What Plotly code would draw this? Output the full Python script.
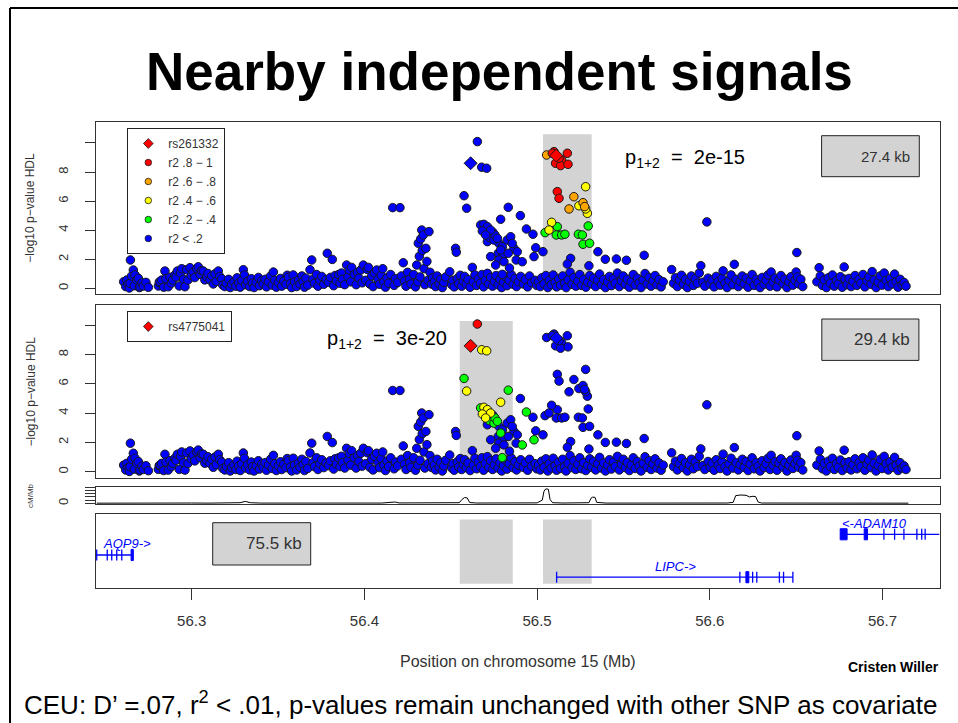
import plotly.graph_objects as go

# ------------------------------------------------------------------ data
# (position Mb, -log10 p) for SNPs that are r2 < .2 with both index SNPs
band_a = [(56.2606,0.45),(56.2618,0.12),(56.2624,0.57),(56.2631,0.28),(56.2639,0.02),(56.2643,0.34),(56.2645,1.95),(56.2652,0.85),(56.2662,1.26),(56.2668,0.18),(56.2672,0.92),(56.2682,0.57),(56.2691,0.69),(56.2697,0.05),(56.2701,0.11),(56.2712,0.38),(56.2720,0.16),(56.2735,0.41),(56.2749,0.07)]
band_b = [(56.2807,0.16),(56.2812,0.42),(56.2816,0.46),(56.2826,0.57),(56.2838,0.08),(56.2845,1.19),(56.2851,0.66),(56.2864,0.11),(56.2874,0.76),(56.2882,0.35),(56.2890,0.57),(56.2903,0.92),(56.2909,0.78),(56.2917,1.19),(56.2928,0.16),(56.2935,1.05),(56.2942,1.35),(56.2953,0.62),(56.2961,0.11),(56.2971,1.28),(56.2978,0.57),(56.2990,1.42),(56.2997,0.88),(56.3009,1.12),(56.3018,0.74),(56.3029,1.35),(56.3038,1.48),(56.3048,0.96),(56.3057,1.22),(56.3067,1.19),(56.3076,0.58),(56.3087,0.78),(56.3094,1.02),(56.3106,0.57),(56.3116,0.85),(56.3125,0.30),(56.3135,1.00),(56.3142,0.48),(56.3154,1.19),(56.3162,0.82),(56.3174,0.66),(56.3180,0.22)]
band_c = [(56.3192,0.12),(56.3201,0.35),(56.3214,0.62),(56.3223,0.05),(56.3231,0.28),(56.3245,0.45),(56.3256,0.15),(56.3263,0.72),(56.3272,0.38),(56.3281,0.08),(56.3290,0.55),(56.3299,1.28),(56.3305,0.92),(56.3312,0.25),(56.3324,0.48),(56.3336,0.12),(56.3345,0.66),(56.3352,0.35),(56.3361,0.05),(56.3374,0.42),(56.3386,0.75),(56.3392,0.18),(56.3405,0.52),(56.3414,0.30),(56.3426,0.62),(56.3433,0.10),(56.3445,0.45),(56.3457,0.85),(56.3466,0.22),(56.3473,1.12),(56.3481,0.55),(56.3490,0.08),(56.3502,0.40),(56.3514,0.68),(56.3521,0.15),(56.3533,0.50),(56.3546,0.28),(56.3553,0.90),(56.3560,0.76),(56.3572,0.32),(56.3579,0.05),(56.3588,0.92),(56.3596,0.45)]
band_d = [(56.3608,0.12),(56.3619,0.58),(56.3627,0.30),(56.3638,0.85),(56.3645,0.48),(56.3653,0.08),(56.3661,0.70),(56.3672,0.22),(56.3685,1.28),(56.3695,1.95),(56.3702,0.62),(56.3711,0.35),(56.3723,0.95),(56.3731,0.15),(56.3742,0.55),(56.3753,0.82),(56.3765,0.28),(56.3778,0.60),(56.3785,2.41),(56.3792,0.42),(56.3803,0.75),(56.3814,1.99),(56.3822,0.18),(56.3830,0.88),(56.3838,0.52),(56.3851,0.95),(56.3859,0.35),(56.3867,1.05),(56.3874,0.62),(56.3886,0.25),(56.3897,1.60),(56.3905,0.80),(56.3912,1.26),(56.3921,0.45),(56.3926,1.44),(56.3941,0.95),(56.3952,0.25),(56.3960,1.10),(56.3968,0.70),(56.3979,1.26),(56.3987,0.38),(56.3994,1.60)]
band_e = [(56.4008,0.55),(56.4016,1.30),(56.4023,1.44),(56.4031,0.30),(56.4042,0.85),(56.4050,0.12),(56.4058,1.05),(56.4071,1.26),(56.4079,0.62),(56.4088,0.28),(56.4097,0.90),(56.4106,1.35),(56.4113,0.45),(56.4122,0.08),(56.4131,0.72),(56.4140,0.35),(56.4152,0.95),(56.4164,5.55),(56.4172,0.20),(56.4180,0.66),(56.4193,0.40),(56.4206,5.55),(56.4214,0.85),(56.4225,1.76),(56.4232,0.50),(56.4241,0.15),(56.4250,1.10),(56.4262,0.62),(56.4270,0.30),(56.4285,0.95),(56.4296,0.10),(56.4303,1.60),(56.4310,0.45),(56.4312,3.10),(56.4318,2.20),(56.4322,0.78),(56.4326,3.40),(56.4332,4.01),(56.4335,2.60),(56.4341,3.67),(56.4345,1.35),(56.4350,0.25),(56.4356,2.75),(56.4362,1.85),(56.4368,0.55),(56.4374,3.90),(56.4380,1.10),(56.4388,0.30),(56.4395,0.72)]
band_f = [(56.4405,0.45),(56.4412,0.12),(56.4421,0.85),(56.4433,0.30),(56.4442,0.62),(56.4451,0.05),(56.4460,0.40),(56.4470,0.78),(56.4494,1.14),(56.4505,0.25),(56.4512,0.55),(56.4520,0.10),(56.4528,2.75),(56.4532,2.48),(56.4538,0.68),(56.4546,0.32),(56.4555,0.90),(56.4563,0.15),(56.4572,0.50),(56.4580,0.82),(56.4590,0.28),(56.4600,0.60),(56.4612,0.08),(56.4625,1.44),(56.4631,0.45),(56.4640,0.92),(56.4650,0.20),(56.4660,0.65),(56.4672,0.35),(56.4681,0.95),(56.4690,0.10),(56.4700,0.55),(56.4712,1.03),(56.4720,0.30),(56.4731,0.75),(56.4742,0.15),(56.4753,0.48),(56.4762,0.88),(56.4774,0.25),(56.4785,0.62),(56.4795,0.05),(56.4806,0.42),(56.4815,0.80),(56.4826,0.18),(56.4838,0.55),(56.4850,0.95),(56.4861,0.28),(56.4872,0.68),(56.4881,0.12),(56.4892,0.45),(56.4905,0.82),(56.4920,0.30),(56.4932,0.60),(56.4945,0.10),(56.4956,0.85),(56.4968,0.38),(56.4988,0.55),(56.4998,0.20)]
peak_blue = [(56.4903,5.00),(56.4976,3.72),(56.4744,3.85),(56.4712,3.21),(56.4779,3.09),(56.4799,2.86),(56.4775,2.41),(56.4799,2.18),(56.4779,1.95),(56.4808,1.83),(56.4760,1.60),(56.4731,2.18),(56.4827,3.32),(56.4847,3.55),(56.4866,2.75),(56.4885,2.52),(56.4833,2.41),(56.4856,3.09),(56.4992,2.79),(56.5034,2.52),(56.5194,2.06),(56.5175,1.67),(56.5300,1.55),(56.5352,2.52),(56.5395,2.00),(56.5459,2.02),(56.5517,1.93),(56.5620,2.27),(56.4879,1.95),(56.4840,1.40)]
band_g = [(56.5008,0.45),(56.5018,0.12),(56.5027,0.72),(56.5040,0.30),(56.5051,0.88),(56.5062,0.05),(56.5070,0.55),(56.5082,0.25),(56.5093,0.92),(56.5104,0.40),(56.5113,0.10),(56.5125,0.65),(56.5136,0.22),(56.5148,0.85),(56.5159,0.35),(56.5168,0.05),(56.5180,0.58),(56.5191,1.10),(56.5202,0.28),(56.5213,0.75),(56.5224,0.15),(56.5236,0.50),(56.5247,0.95),(56.5258,0.20),(56.5270,0.62),(56.5282,0.08),(56.5293,0.42),(56.5305,0.88),(56.5316,0.30),(56.5328,0.70),(56.5339,0.12),(56.5351,0.55),(56.5362,0.98),(56.5373,0.25),(56.5385,0.60),(56.5396,0.05),(56.5408,0.45),(56.5419,0.82),(56.5430,0.18),(56.5442,0.66),(56.5453,0.35),(56.5465,1.05),(56.5476,0.12),(56.5488,0.52),(56.5499,0.85)]
band_h = [(56.5511,0.28),(56.5522,0.62),(56.5534,0.08),(56.5545,0.45),(56.5557,0.95),(56.5568,0.22),(56.5580,0.70),(56.5591,0.38),(56.5602,0.05),(56.5614,0.58),(56.5625,1.02),(56.5637,0.30),(56.5648,0.75),(56.5660,0.15),(56.5671,0.52),(56.5683,0.88),(56.5694,0.25),(56.5706,0.60),(56.5718,0.10),(56.5730,0.45),(56.5779,1.29),(56.5790,0.35),(56.5801,0.72),(56.5812,0.12),(56.5824,0.55),(56.5836,0.90),(56.5847,0.28),(56.5859,0.62),(56.5870,0.05),(56.5882,0.48),(56.5893,0.85),(56.5905,0.20),(56.5916,0.66),(56.5928,0.35),(56.5939,1.05),(56.5948,1.56),(56.5960,0.42),(56.5971,0.15),(56.5983,4.57),(56.5990,0.70)]
band_i = [(56.6002,0.30),(56.6014,0.58),(56.6025,0.10),(56.6037,0.82),(56.6048,0.45),(56.6060,0.22),(56.6071,0.68),(56.6077,1.20),(56.6088,0.35),(56.6100,0.05),(56.6111,0.55),(56.6123,0.92),(56.6134,0.25),(56.6142,1.65),(56.6153,0.62),(56.6165,0.12),(56.6176,0.48),(56.6188,0.85),(56.6199,0.30),(56.6211,0.70),(56.6222,0.08),(56.6234,0.52),(56.6245,0.95),(56.6257,0.20),(56.6268,0.62),(56.6280,0.38),(56.6291,0.05),(56.6303,0.75),(56.6314,0.28),(56.6326,0.55),(56.6337,0.92),(56.6349,0.15),(56.6355,1.12),(56.6366,0.45),(56.6378,0.70),(56.6389,0.10),(56.6401,0.58),(56.6412,0.88),(56.6424,0.32),(56.6435,0.62),(56.6447,0.05),(56.6458,0.45),(56.6470,0.80),(56.6481,0.22),(56.6493,0.55),(56.6504,2.46),(56.6500,1.12),(56.6508,0.78),(56.6515,0.30),(56.6527,0.62),(56.6538,0.12)]
band_j = [(56.6620,0.45),(56.6633,1.42),(56.6640,0.85),(56.6652,0.20),(56.6663,0.58),(56.6675,0.05),(56.6686,0.72),(56.6698,0.35),(56.6710,0.92),(56.6721,0.15),(56.6733,0.55),(56.6744,0.30),(56.6756,0.80),(56.6767,0.08),(56.6778,1.47),(56.6783,0.62),(56.6795,0.25),(56.6806,0.68),(56.6818,0.12),(56.6829,0.48),(56.6841,0.88),(56.6852,0.20),(56.6864,0.62),(56.6875,0.35),(56.6887,0.95),(56.6898,0.10),(56.6910,0.52),(56.6921,0.78),(56.6933,0.28),(56.6940,1.15),(56.6952,0.58),(56.6963,0.05),(56.6975,0.42),(56.6986,0.85),(56.6998,0.22),(56.7010,1.05),(56.7021,0.55),(56.7033,0.12),(56.7044,0.68),(56.7056,0.30),(56.7070,0.98),(56.7079,0.45),(56.7090,0.08),(56.7102,0.62),(56.7113,0.25),(56.7125,0.40),(56.7136,0.15)]

# SNPs in LD with rs261332 (coloured in the top panel, blue below)
top_red = [(56.5098,9.40),(56.5088,9.29),(56.5175,9.29),(56.5142,8.83),(56.5107,8.60),(56.5136,8.44),(56.5179,8.53),(56.5127,8.95),(56.5117,6.65),(56.5127,6.19)]
top_orange = [(56.5055,9.17),(56.5213,6.30),(56.5185,5.46),(56.5266,5.89),(56.5275,5.62)]
top_yellow = [(56.5281,6.99),(56.5242,5.68),(56.5291,5.16),(56.5281,5.46),(56.5084,4.54),(56.5069,4.01)]
top_green = [(56.5046,3.83),(56.5117,4.24),(56.5111,3.67),(56.5142,3.67),(56.5161,3.72),(56.5239,3.72),(56.5262,3.67),(56.5296,4.29),(56.5266,3.03),(56.5304,3.10)]

# SNPs in LD with rs4775041 (coloured in the bottom panel, blue above)
bot_red = [(56.4654,10.09)]
bot_yellow = [(56.4679,8.33),(56.4708,8.26),(56.4592,5.51),(56.4789,4.75),(56.4692,4.40),(56.4712,4.24),(56.4731,4.01),(56.4683,3.94),(56.4702,3.67)]
bot_green = [(56.4577,6.37),(56.4833,5.57),(56.4938,4.08),(56.4673,4.36),(56.4725,3.49),(56.4750,3.32),(56.4756,3.67),(56.4770,3.44),(56.4789,2.64),(56.4914,1.83),(56.4982,2.18),(56.4798,0.96)]

rs261332 = (56.5111, 9.13)
rs4775041 = (56.4615, 8.60)

top_window = (56.5034, 56.5316)
bot_window = (56.4552, 56.4859)

recomb_pos = [56.2450,56.2550,56.2620,56.2700,56.2800,56.2900,56.3000,56.3100,56.3200,56.3280,56.3310,56.3340,56.3400,56.3500,56.3600,56.3700,56.3800,56.3900,56.4000,56.4100,56.4160,56.4180,56.4200,56.4300,56.4400,56.4500,56.4550,56.4565,56.4580,56.4595,56.4610,56.4650,56.4700,56.4800,56.4900,56.5000,56.5030,56.5040,56.5050,56.5065,56.5075,56.5090,56.5150,56.5200,56.5250,56.5300,56.5312,56.5320,56.5335,56.5345,56.5400,56.5500,56.5600,56.5700,56.5800,56.5900,56.6000,56.6100,56.6135,56.6150,56.6180,56.6210,56.6230,56.6250,56.6265,56.6280,56.6300,56.6400,56.6500,56.6600,56.6700,56.6800,56.6900,56.7000,56.7100,56.7150]
recomb_rate = [0.5,1.0,0.8,1.2,0.6,1.5,1.0,0.7,1.2,2.0,6.0,2.0,0.8,1.0,0.6,1.4,0.8,1.0,1.5,0.9,3.5,4.0,1.2,0.8,0.6,1.0,2.0,12.0,18.0,17.0,2.5,1.0,0.8,1.2,0.7,1.5,10.0,38.0,45.0,44.0,12.0,2.0,1.0,0.8,1.2,2.0,16.0,19.0,19.0,3.0,0.8,0.6,1.0,0.5,1.2,0.8,1.5,1.0,3.0,24.0,26.0,25.0,20.0,22.0,21.0,4.0,1.0,0.8,1.2,0.6,0.9,0.5,1.0,0.7,0.8,0.5]

gene_labels = ["AQP9->", "LIPC->", "<-ADAM10"]
gene_start = [56.2446, 56.5113, 56.6755]
gene_end = [56.2662, 56.6481, 56.7329]
gene_exons = [[56.2450, 56.2511, 56.2537, 56.2566, 56.2595],
              [56.5113, 56.6174, 56.6248, 56.6272, 56.6403, 56.6427, 56.6481],
              [56.7008, 56.7070, 56.7124, 56.7199, 56.7227, 56.7247]]
gene_blocks = [[(56.2649, 56.2662)], [(56.6209, 56.6226)], [(56.6755, 56.6795), (56.6894, 56.6913)]]
gene_label_pos = [56.2624, 56.5800, 56.6954]

x_ticks = [56.3, 56.4, 56.5, 56.6, 56.7]
x_tick_labels = ["56.3", "56.4", "56.5", "56.6", "56.7"]
y_ticks = [0, 2, 4, 6, 8]
y_tick_labels = ["0", "2", "4", "6", "8"]
y_minor_ticks = [10]
recomb_minor_ticks = [10, 20, 30, 40, 50]
kb_labels = ["27.4 kb", "29.4 kb", "75.5 kb"]

# ------------------------------------------------------------------ layout helpers
W, H = 958, 723
def fx(p): return p / W
def fy(p): return 1 - p / H

FONT = "Liberation Sans, Arial, Helvetica, sans-serif"
INK = "#333333"
COL = {"blue": "#0000FF", "green": "#00FF00", "yellow": "#FFFF00", "orange": "#FFA500", "red": "#FF0000"}
MSIZE = 8.5
MLINE = dict(color="#1a1a1a", width=1)
LEG_MLINE = dict(color="#1a1a1a", width=0.8)

def xs(pts): return [p[0] for p in pts]
def ys(pts): return [p[1] for p in pts]

bg_snps = band_a + band_b + band_c + band_d + band_e + band_f + peak_blue + band_g + band_h + band_i + band_j
top_sets = [(top_green, "green"), (top_yellow, "yellow"), (top_orange, "orange"), (top_red, "red")]
bot_sets = [(bot_green, "green"), (bot_yellow, "yellow"), (bot_red, "red")]
legend_entries = [("rs261332", "red", "diamond"), ("r2 .8 − 1", "red", "circle"), ("r2 .6 − .8", "orange", "circle"),
                  ("r2 .4 − .6", "yellow", "circle"), ("r2 .2 − .4", "green", "circle"), ("r2 &lt; .2", "blue", "circle")]

fig = go.Figure()

# ---- top panel
blue_top = bg_snps + bot_green + bot_yellow + bot_red
fig.add_trace(go.Scatter(x=xs(blue_top), y=ys(blue_top), mode="markers", xaxis="x", yaxis="y",
                         marker=dict(color=COL["blue"], size=MSIZE, line=MLINE), showlegend=False))
for pts, c in top_sets:
    fig.add_trace(go.Scatter(x=xs(pts), y=ys(pts), mode="markers", xaxis="x", yaxis="y",
                             marker=dict(color=COL[c], size=MSIZE, line=MLINE), showlegend=False))
fig.add_trace(go.Scatter(x=[rs4775041[0]], y=[rs4775041[1]], mode="markers", xaxis="x", yaxis="y",
                         marker=dict(color=COL["blue"], symbol="diamond", size=10, line=MLINE), showlegend=False))
fig.add_trace(go.Scatter(x=[rs261332[0]], y=[rs261332[1]], mode="markers", xaxis="x", yaxis="y",
                         marker=dict(color=COL["red"], symbol="diamond", size=10, line=MLINE), showlegend=False))

# legend keys (no data; only drawn in the legend box)
for name, c, sym in legend_entries:
    fig.add_trace(go.Scatter(x=[None], y=[None], mode="markers", xaxis="x", yaxis="y", name=name,
                             marker=dict(color=COL[c], symbol=sym, size=6.5 if sym == "circle" else 7.5, line=LEG_MLINE),
                             legend="legend"))

# ---- bottom panel
blue_bot = bg_snps + top_green + top_yellow + top_orange + top_red
fig.add_trace(go.Scatter(x=xs(blue_bot), y=ys(blue_bot), mode="markers", xaxis="x2", yaxis="y2",
                         marker=dict(color=COL["blue"], size=MSIZE, line=MLINE), showlegend=False))
for pts, c in bot_sets:
    fig.add_trace(go.Scatter(x=xs(pts), y=ys(pts), mode="markers", xaxis="x2", yaxis="y2",
                             marker=dict(color=COL[c], size=MSIZE, line=MLINE), showlegend=False))
fig.add_trace(go.Scatter(x=[rs261332[0]], y=[rs261332[1]], mode="markers", xaxis="x2", yaxis="y2",
                         marker=dict(color=COL["blue"], symbol="diamond", size=10, line=MLINE), showlegend=False))
fig.add_trace(go.Scatter(x=[rs4775041[0]], y=[rs4775041[1]], mode="markers", xaxis="x2", yaxis="y2",
                         marker=dict(color=COL["red"], symbol="diamond", size=10, line=MLINE), showlegend=False))
fig.add_trace(go.Scatter(x=[None], y=[None], mode="markers", xaxis="x2", yaxis="y2", name="rs4775041",
                         marker=dict(color=COL["red"], symbol="diamond", size=7.5, line=LEG_MLINE), legend="legend2"))

# ---- recombination track
fig.add_trace(go.Scatter(x=recomb_pos, y=recomb_rate, mode="lines", xaxis="x3", yaxis="y3",
                         line=dict(color="black", width=1), showlegend=False))

# ------------------------------------------------------------------ shapes
shapes = []
GRAY = "#D3D3D3"
shapes.append(dict(type="rect", xref="x", yref="y", x0=top_window[0], x1=top_window[1], y0=0, y1=10.6,
                   fillcolor=GRAY, line=dict(width=0), layer="below"))
shapes.append(dict(type="rect", xref="x2", yref="y2", x0=bot_window[0], x1=bot_window[1], y0=0, y1=10.3,
                   fillcolor=GRAY, line=dict(width=0), layer="below"))
for win in (bot_window, top_window):
    shapes.append(dict(type="rect", xref="x4", yref="y4", x0=win[0], x1=win[1], y0=0.06, y1=0.93,
                       fillcolor=GRAY, line=dict(width=0), layer="below"))

gene_row = [0.45, 0.15, 0.73]
gene_label_row = [0.61, 0.29, 0.88]
GBLUE = "#0000FF"
HALF = 0.075
for i in range(len(gene_labels)):
    r = gene_row[i]
    shapes.append(dict(type="line", xref="x4", yref="y4", x0=gene_start[i], x1=gene_end[i], y0=r, y1=r,
                       line=dict(color=GBLUE, width=1.3)))
    for e in gene_exons[i]:
        shapes.append(dict(type="line", xref="x4", yref="y4", x0=e, x1=e, y0=r - HALF, y1=r + HALF,
                           line=dict(color=GBLUE, width=1.3)))
    for b0, b1 in gene_blocks[i]:
        shapes.append(dict(type="rect", xref="x4", yref="y4", x0=b0, x1=b1, y0=r - HALF, y1=r + HALF,
                           fillcolor=GBLUE, line=dict(color=GBLUE, width=1)))

# kb boxes (paper pixels)
kb_boxes = [(821.6, 919.3, 135.7, 176.7), (821.8, 918.9, 319.0, 360.4), (212.7, 310.7, 522.7, 565.0)]
kb_sizes = [15, 17, 17]
for (x0, x1, y0, y1) in kb_boxes:
    shapes.append(dict(type="rect", xref="paper", yref="paper", x0=fx(x0), x1=fx(x1), y0=fy(y1), y1=fy(y0),
                       fillcolor=GRAY, line=dict(color="#222222", width=1)))

# slide frame
shapes.append(dict(type="line", xref="paper", yref="paper", x0=fx(10), x1=fx(10), y0=fy(8), y1=0,
                   line=dict(color="black", width=2)))
shapes.append(dict(type="line", xref="paper", yref="paper", x0=fx(10), x1=1, y0=fy(8), y1=fy(8),
                   line=dict(color="black", width=2)))

# ------------------------------------------------------------------ annotations
ann = []
def text(t, x, y, size, color="black", xanchor="center", yanchor="middle", angle=0, xref="paper", yref="paper"):
    ann.append(dict(text=t, x=x, y=y, xref=xref, yref=yref, showarrow=False, xanchor=xanchor, yanchor=yanchor,
                    textangle=angle, font=dict(family=FONT, size=size, color=color)))

text("<b>Nearby independent signals</b>", fx(499), fy(72), 53)
text("p<sub>1+2</sub>\u00a0\u00a0=\u00a0\u00a02e-15", fx(623), fy(158), 20, xanchor="left")
text("p<sub>1+2</sub>\u00a0\u00a0=\u00a0\u00a03e-20", fx(325), fy(339), 20, xanchor="left")
for (x0, x1, y0, y1), lab, s in zip(kb_boxes, kb_labels, kb_sizes):
    text(lab, fx(x1 - 7), fy((y0 + y1) / 2), s, color=INK, xanchor="right")
for i, lab in enumerate(gene_labels):
    text("<i>" + lab + "</i>", gene_label_pos[i], gene_label_row[i], 13, color=GBLUE, xref="x4", yref="y4")
text("−log10 p−value HDL", fx(30), fy(207.7), 12, color=INK, angle=-90)
text("−log10 p−value HDL", fx(30), fy(391.5), 12, color=INK, angle=-90)
text("cM/Mb", fx(30), fy(496), 8, color=INK, angle=-90)
text("Position on chromosome 15 (Mb)", fx(518), fy(661), 16, color=INK)
text("<b>Cristen Willer</b>", fx(941), fy(667), 14, xanchor="right")
text("CEU: D’ =.07, r<sup>2</sup> &lt; .01, p-values remain unchanged with other SNP as covariate",
     fx(22), fy(703), 26, xanchor="left")

# ------------------------------------------------------------------ axes
XR = [56.24441, 56.73329]
XD = [fx(95.7), fx(940.0)]
box = dict(showline=True, mirror=True, linecolor=INK, linewidth=1, showgrid=False, zeroline=False)
yt = dict(tickmode="array", tickvals=y_ticks, ticktext=y_tick_labels, ticks="outside", ticklen=10,
          tickcolor=INK, tickangle=-90, tickfont=dict(family=FONT, size=13, color=INK), ticklabelstandoff=12,
          minor=dict(tickmode="array", tickvals=y_minor_ticks, ticks="outside", ticklen=10, tickcolor=INK))

layout = dict(
    width=W, height=H, margin=dict(l=0, r=0, t=0, b=0),
    paper_bgcolor="white", plot_bgcolor="white", showlegend=True,
    font=dict(family=FONT, color=INK),
    xaxis=dict(domain=XD, range=XR, anchor="y", ticks="", showticklabels=False, **box),
    xaxis2=dict(domain=XD, range=XR, anchor="y2", ticks="", showticklabels=False, **box),
    xaxis3=dict(domain=XD, range=XR, anchor="y3", ticks="", showticklabels=False, **box),
    xaxis4=dict(domain=XD, range=XR, anchor="y4", tickmode="array", tickvals=x_ticks, ticktext=x_tick_labels,
                ticks="outside", ticklen=11, tickcolor=INK, ticklabelstandoff=8,
                tickfont=dict(family=FONT, size=15, color=INK), **box),
    yaxis=dict(domain=[fy(293.7), fy(121.7)], range=[-0.37, 11.46], anchor="x", **yt, **box),
    yaxis2=dict(domain=[fy(478.3), fy(304.7)], range=[-0.45, 11.41], anchor="x2", **yt, **box),
    yaxis3=dict(domain=[fy(504.3), fy(487.3)], range=[-3, 50], anchor="x3", tickmode="array",
                tickvals=[0], ticktext=["0"], ticks="outside",
                ticklen=10, tickcolor=INK, tickangle=-90, ticklabelstandoff=12,
                minor=dict(tickmode="array", tickvals=recomb_minor_ticks, ticks="outside", ticklen=10, tickcolor=INK),
                tickfont=dict(family=FONT, size=13, color=INK), **box),
    yaxis4=dict(domain=[fy(588.3), fy(514.3)], range=[0, 1], anchor="x4", ticks="", showticklabels=False, **box),
    legend=dict(x=fx(127.3), y=fy(128), xanchor="left", yanchor="top", bgcolor="white",
                bordercolor="#222222", borderwidth=1, traceorder="normal", itemwidth=30,
                font=dict(family=FONT, size=12, color=INK)),
    legend2=dict(x=fx(127.3), y=fy(311), xanchor="left", yanchor="top", bgcolor="white",
                 bordercolor="#222222", borderwidth=1, itemwidth=30,
                 font=dict(family=FONT, size=12, color=INK)),
    shapes=shapes, annotations=ann,
)
fig.update_layout(**layout)
fig.write_html("out.html")
